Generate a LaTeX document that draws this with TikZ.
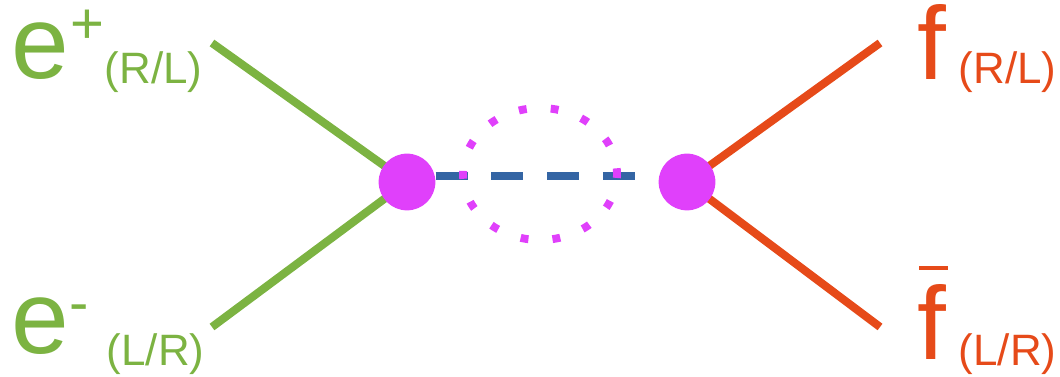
\documentclass[tikz,border=0pt]{standalone}
\usepackage{fontspec}
\setmainfont{Liberation Sans}
\usetikzlibrary{backgrounds}

\definecolor{lepgreen}{HTML}{7CB342}
\definecolor{fermorange}{HTML}{E64A19}
\definecolor{vtxpink}{HTML}{E040FB}
\definecolor{propblue}{HTML}{3465A4}

\tikzset{
  lepline/.style={line width=4.6pt, draw=lepgreen},
  fermline/.style={line width=4.6pt, draw=fermorange},
  vtx/.style={circle, fill=vtxpink, inner sep=0pt, minimum size=32.3pt},
  propline/.style={line width=4.5pt, draw=propblue, dash pattern=on 18.1pt off 13.6pt},
  loopline/.style={line width=4.5pt, draw=vtxpink, dash pattern=on 4.5pt off 13.72pt, dash phase=2.25pt},
  bigtxt/.style={inner sep=0pt, anchor=base west, font=\fontsize{59}{60}\selectfont},
  suptxt/.style={inner sep=0pt, anchor=base west, font=\fontsize{33}{34}\selectfont},
  subtxt/.style={inner sep=0pt, anchor=base west, font=\fontsize{25}{26}\selectfont}
}

\begin{document}
\begin{tikzpicture}[x=0.02cm, y=-0.02cm]
    \useasboundingbox (0,0) rectangle (1060,377);

    % 1. 两个顶点
    \node [vtx] (vl) at (407,182) {};
    \node [vtx] (vr) at (687,182) {};

    % 2. 外线端点
    \coordinate (epend) at (212,43);
    \coordinate (emend) at (212,327);
    \coordinate (fend) at (880,43);
    \coordinate (fbend) at (880,327);

    % 3. 外线 + 传播子 (放在顶点下面)
    \begin{pgfonlayer}{background}
      \draw [lepline] (epend) -- (vl.center);
      \draw [lepline] (emend) -- (vl.center);
      \draw [fermline] (fend) -- (vr.center);
      \draw [fermline] (fbend) -- (vr.center);
      \draw [propline] ([shift={(0,-6)}]vl.east) -- ([shift={(0,-6)}]vr.west);
    \end{pgfonlayer}

    % 4. 点状圈
    \draw [loopline] (540,174) ellipse [x radius=77, y radius=66];

    % 5. 左边标注 e+ / e-
    \node [bigtxt, text=lepgreen] (ep) at (10.8,78.4) {e};
    \node [suptxt, text=lepgreen] (epsgn) at (69.8,43.8) {+};
    \node [subtxt, text=lepgreen] (epsub) at (104.4,83.8) {(R/L)};
    \node [bigtxt, text=lepgreen] (em) at (10.8,353.4) {e};
    \node [suptxt, text=lepgreen] (emsgn) at (69.4,322.4) {-};
    \node [subtxt, text=lepgreen] (emsub) at (106.4,365.8) {(L/R)};

    % 6. 右边标注 f / fbar
    \node [bigtxt, text=fermorange] (f) at (917.6,80) {f};
    \node [subtxt, text=fermorange] (fsub) at (958.4,83.8) {(R/L)};
    \node [bigtxt, text=fermorange] (fb) at (917.6,360) {f};
    \node [subtxt, text=fermorange] (fbsub) at (958.4,365.8) {(L/R)};
    \draw [line width=2.3pt, fermorange] ([shift={(1.4,-17)}]fb.north west) -- ([shift={(30.4,-17)}]fb.north west);
\end{tikzpicture}
\end{document}
